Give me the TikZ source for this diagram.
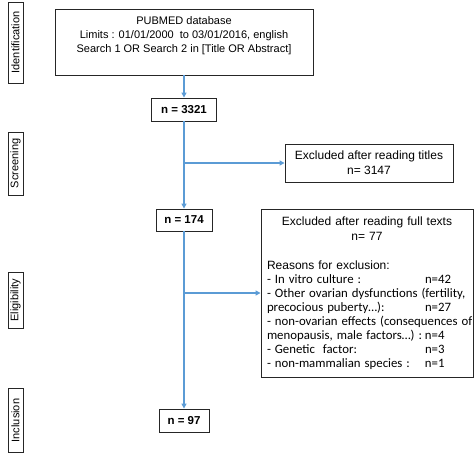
\documentclass[tikz,border=0pt]{standalone}
\usepackage{fontspec}
\setmainfont{Liberation Sans}
\newfontfamily\calibri{Carlito}
\usetikzlibrary{arrows.meta}
\definecolor{flowblue}{RGB}{91,155,213}
\newcommand{\reason}[2]{\makebox[158pt][l]{#1}#2}

\begin{document}
\begin{tikzpicture}[x=1pt, y=-1pt,
  box/.style={draw=black!85, line width=0.9pt, inner sep=0pt, align=center},
  phase/.style={box, rotate=90, minimum height=15pt, font=\fontsize{11}{13}\selectfont},
  count/.style={box, font=\bfseries\fontsize{11.5}{14}\selectfont},
  flow/.style={draw=flowblue, line width=1.2pt, -{Triangle[length=5pt, width=5pt]}}]
\useasboundingbox (0,0) rectangle (474,453);

% phases on the left
\node [phase, minimum width=81pt] (ident) at (15.5,42.5) {Identification};
\node [phase, minimum width=63pt] (screen) at (15.5,163.5) {Screening};
\node [phase, minimum width=56pt] (elig) at (15.5,300) {Eligibility};
\node [phase, minimum width=64pt] (incl) at (15.5,420.5) {Inclusion};

% search box and counts
\node [box, minimum width=258pt, minimum height=66pt, font=\fontsize{11}{14}\selectfont] (pubmed) at (184,42)
  {PUBMED database\\ Limits : 01/01/2000 \ to 03/01/2016, english\\ Search 1 OR Search 2 in [Title OR Abstract]\\ \mbox{}};
\node [count, minimum width=65pt, minimum height=23pt] (n3321) at (184,109.5) {n = 3321};
\node [count, minimum width=56pt, minimum height=22pt] (n174) at (184,220) {n = 174};
\node [count, minimum width=50pt, minimum height=23pt] (n97) at (184,420.5) {n = 97};

% exclusions
\node [box, minimum width=168pt, minimum height=38pt, font=\fontsize{12}{15}\selectfont] (titles) at (369,163)
  {Excluded after reading titles\\ n= 3147};
\node [box, minimum width=212pt, minimum height=168pt, text width=200pt, align=left,
  font=\fontsize{12}{14.5}\selectfont] (fulltext) at (367,293) {%
  {\centering\fontsize{12}{15}\selectfont Excluded after reading full texts\\ n= 77\par}
  \vspace{15pt}
  Reasons for exclusion:\par
  {\calibri\fontsize{12.8}{14}\selectfont
  \reason{- In vitro culture :}{n=42}\\
  \mbox{- Other ovarian dysfunctions (fertility,}\\
  \reason{precocious puberty…):}{n=27}\\
  \mbox{- non-ovarian effects (consequences of}\\
  \reason{menopausis, male factors…) :}{n=4}\\
  \reason{- Genetic \ factor:}{n=3}\\
  \reason{- non-mammalian species :}{n=1}\par}};

% connectors
\coordinate (split1) at (184,163);
\coordinate (split2) at (184,293);
\draw [flow] (pubmed.south) -- (n3321.north);
\draw [flow] (n3321.south) -- (n174.north);
\draw [flow] (n174.south) -- (n97.north);
\draw [flow] (split1) -- (titles.west);
\draw [flow] (split2) -- (fulltext.west);

\end{tikzpicture}
\end{document}
